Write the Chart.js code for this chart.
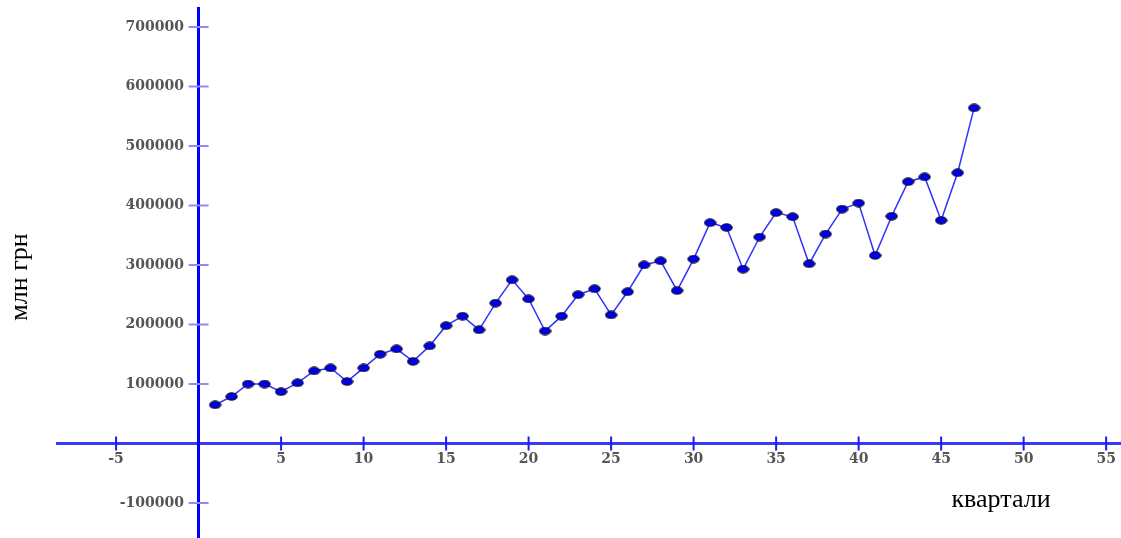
<!DOCTYPE html>
<html>
<head>
<meta charset="utf-8">
<script src="https://cdn.jsdelivr.net/npm/chart.js@4.4.1/dist/chart.umd.min.js"></script>
<style>
  html, body { margin: 0; padding: 0; background: #fff; }
  #wrap { width: 1121px; height: 538px; }
</style>
</head>
<body>
<div id="wrap"><canvas id="chart" width="1121" height="538"></canvas></div>
<script>
// quarter number -> value, mln UAH
const quarters = [1, 2, 3, 4, 5, 6, 7, 8, 9, 10, 11, 12, 13, 14, 15, 16, 17, 18, 19, 20,
  21, 22, 23, 24, 25, 26, 27, 28, 29, 30, 31, 32, 33, 34, 35, 36, 37, 38, 39, 40,
  41, 42, 43, 44, 45, 46, 47];
const values = [65000, 79000, 100000, 100000, 87000, 102000, 122000, 127000, 104000, 127000,
  150000, 159000, 138000, 164000, 198000, 214000, 191000, 236000, 275000, 243000,
  189000, 214000, 250000, 260000, 216000, 255000, 300000, 307000, 257000, 310000,
  371000, 363000, 293000, 347000, 388000, 381000, 302000, 352000, 394000, 404000,
  316000, 382000, 440000, 448000, 375000, 455000, 564000];

const xTicks = [-5, 5, 10, 15, 20, 25, 30, 35, 40, 45, 50, 55];
const yTicks = [-100000, 100000, 200000, 300000, 400000, 500000, 600000, 700000];

const xTitle = 'квартали';
const yTitle = 'млн грн';

function makeDot() {
  const c = document.createElement('canvas');
  c.width = 13;
  c.height = 9;
  const g = c.getContext('2d');
  g.beginPath();
  g.ellipse(6.5, 4.5, 5.7, 3.7, 0, 0, Math.PI * 2);
  g.fillStyle = '#0000e8';
  g.fill();
  g.lineWidth = 1;
  g.strokeStyle = '#000';
  g.stroke();
  return c;
}

// short tick marks crossing the axes, plus axis titles
const axisMarks = {
  id: 'axisMarks',
  beforeDatasetsDraw(chart) {
    const { ctx, scales: { x, y } } = chart;
    const x0 = x.getPixelForValue(0);
    const y0 = y.getPixelForValue(0);
    ctx.save();
    ctx.lineWidth = 2;
    ctx.strokeStyle = '#1a1aff';
    x.ticks.forEach(t => {
      const px = x.getPixelForValue(t.value);
      ctx.beginPath();
      ctx.moveTo(px, y0 - 7);
      ctx.lineTo(px, y0 + 7);
      ctx.stroke();
    });
    ctx.strokeStyle = '#8c8cff';
    y.ticks.forEach(t => {
      const py = y.getPixelForValue(t.value);
      ctx.beginPath();
      ctx.moveTo(x0 - 10, py);
      ctx.lineTo(x0 + 10, py);
      ctx.stroke();
    });
    ctx.restore();
  },
  afterDraw(chart) {
    const { ctx } = chart;
    ctx.save();
    ctx.fillStyle = '#000';
    ctx.font = '26px "Liberation Serif"';
    ctx.textAlign = 'center';
    ctx.textBaseline = 'alphabetic';
    ctx.fillText(xTitle, 1001, 507);
    ctx.translate(27, 277);
    ctx.rotate(-Math.PI / 2);
    ctx.fillText(yTitle, 0, 0);
    ctx.restore();
  }
};

const tickFont = { family: '"DejaVu Serif"', size: 14, weight: 'bold' };
const noPad = s => { s.paddingTop = 0; s.paddingBottom = 0; s.paddingLeft = 0; s.paddingRight = 0; };

new Chart(document.getElementById('chart'), {
  type: 'line',
  data: {
    datasets: [{
      data: quarters.map((q, i) => ({ x: q, y: values[i] })),
      borderColor: '#3030ff',
      borderWidth: 1.5,
      pointStyle: makeDot(),
      tension: 0
    }]
  },
  options: {
    responsive: false,
    animation: false,
    devicePixelRatio: 1,
    layout: { autoPadding: false, padding: { left: 57, top: 8, right: 0, bottom: 0 } },
    plugins: { legend: { display: false }, tooltip: { enabled: false } },
    scales: {
      x: {
        type: 'linear',
        min: -8.58,
        max: 55.9,
        position: { y: 0 },
        afterBuildTicks: s => { s.ticks = xTicks.map(v => ({ value: v })); },
        afterFit: noPad,
        grid: { display: false, drawTicks: false },
        border: { display: true, color: '#3838ff', width: 3 },
        ticks: { color: '#555', font: tickFont, padding: 7, callback: v => String(v) }
      },
      y: {
        type: 'linear',
        min: -158800,
        max: 731900,
        position: { x: 0 },
        afterBuildTicks: s => { s.ticks = yTicks.map(v => ({ value: v })); },
        afterFit: noPad,
        grid: { display: false, drawTicks: false },
        border: { display: true, color: '#0000ff', width: 3 },
        // labels sit right on the axis line when it is placed by value, so pad with spaces
        ticks: { color: '#555', font: tickFont, padding: 0, callback: v => String(v) + '   ' }
      }
    }
  },
  plugins: [axisMarks]
});
</script>
</body>
</html>
